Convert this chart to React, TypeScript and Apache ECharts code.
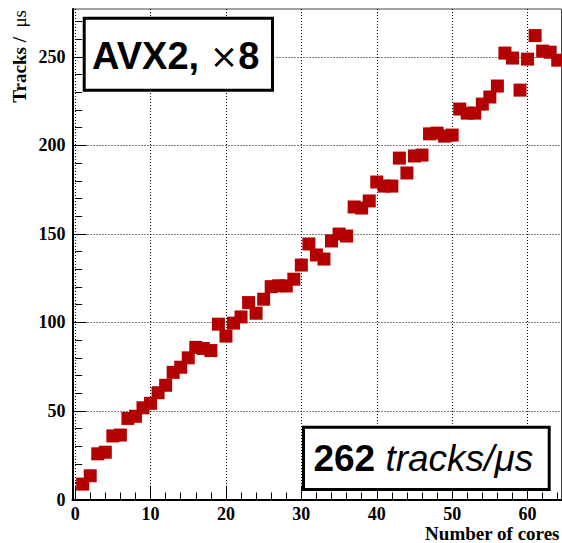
import React, { useEffect, useRef } from "react";
import * as echarts from "echarts";

// ---- data ----
const cores: number[] = [
  1, 2, 3, 4, 5, 6, 7, 8, 9, 10, 11, 12, 13, 14, 15, 16,
  17, 18, 19, 20, 21, 22, 23, 24, 25, 26, 27, 28, 29, 30, 31, 32,
  33, 34, 35, 36, 37, 38, 39, 40, 41, 42, 43, 44, 45, 46, 47, 48,
  49, 50, 51, 52, 53, 54, 55, 56, 57, 58, 59, 60, 61, 62, 63, 64,
];
const tracksPerUs: number[] = [
  8.7, 13.4, 25.8, 26.7, 35.9, 36.4, 45.8, 47.0, 51.8, 54.3, 60.3, 64.5, 71.8, 74.7, 80.0, 85.9,
  85.3, 84.1, 99.0, 92.3, 99.6, 103.1, 111.2, 105.2, 113.1, 120.2, 120.7, 120.6, 124.4, 132.4, 144.3, 138.1,
  135.8, 146.0, 149.9, 148.8, 165.2, 164.6, 168.6, 179.3, 177.0, 177.0, 192.8, 184.4, 194.0, 194.5, 206.5, 206.9,
  205.2, 205.8, 220.5, 218.2, 218.2, 223.3, 227.3, 233.5, 252.1, 249.3, 231.2, 248.7, 262.0, 253.2, 252.6, 248.1,
];
const xMajorTicks: number[] = [0, 10, 20, 30, 40, 50, 60];
const xMinorTicks: number[] = [
  2, 4, 6, 8, 12, 14, 16, 18, 22, 24, 26, 28, 32, 34, 36, 38,
  42, 44, 46, 48, 52, 54, 56, 58, 62, 64,
];
const yMajorTicks: number[] = [0, 50, 100, 150, 200, 250];
const yMinorTicks: number[] = [
  10, 20, 30, 40, 60, 70, 80, 90, 110, 120, 130, 140, 160, 170, 180, 190,
  210, 220, 230, 240, 260, 270,
];
const xRange: [number, number] = [-0.35, 64.5];
const yRange: [number, number] = [0, 277];
const xTitle = "Number of cores";
const yTitle = "Tracks /  ";
const yTitleUnit = "μs";
const boxTopLabel = ["AVX2, ", "×", "8"];
const boxBottomLabel = ["262", " tracks/μs"];

const SERIF = "'Liberation Serif', 'Times New Roman', serif";
const SANS = "'Liberation Sans', Arial, sans-serif";

export default function App() {
  const ref = useRef<HTMLDivElement>(null);
  useEffect(() => {
    if (!ref.current) return;
    const chart = echarts.init(ref.current, undefined, { renderer: "svg" });
    const labelStyle = {
      fontFamily: SERIF,
      fontWeight: "bold" as const,
      fontSize: 18,
      color: "#000",
    };
    chart.setOption({
      animation: false,
      backgroundColor: "#fff",
      grid: {
        left: 72.5,
        right: 0.5,
        top: 9,
        bottom: 43.5,
        show: true,
        borderColor: "#444",
        borderWidth: 1,
        backgroundColor: "transparent",
        outerBoundsMode: "none",
        containLabel: false,
      },
      xAxis: [
        {
          type: "value",
          min: xRange[0],
          max: xRange[1],
          position: "bottom",
          axisLine: { show: true, onZero: false, lineStyle: { color: "#000", width: 2 } },
          axisTick: {
            show: true,
            inside: true,
            length: 14,
            customValues: xMajorTicks,
            lineStyle: { color: "#000", width: 1 },
          },
          axisLabel: { ...labelStyle, customValues: xMajorTicks, margin: 5 },
          splitLine: { show: true, lineStyle: { color: "#000", width: 1, type: [1, 2] } },
        },
        {
          type: "value",
          min: xRange[0],
          max: xRange[1],
          position: "bottom",
          axisLine: { show: false },
          axisTick: {
            show: true,
            inside: true,
            length: 7,
            customValues: xMinorTicks,
            lineStyle: { color: "#000", width: 1 },
          },
          axisLabel: { show: false },
          splitLine: { show: false },
        },
      ],
      yAxis: [
        {
          type: "value",
          min: yRange[0],
          max: yRange[1],
          position: "left",
          axisLine: { show: true, onZero: false, lineStyle: { color: "#000", width: 2 } },
          axisTick: {
            show: true,
            inside: true,
            length: 14,
            customValues: yMajorTicks,
            lineStyle: { color: "#000", width: 1 },
          },
          axisLabel: { ...labelStyle, customValues: yMajorTicks, margin: 7 },
          splitLine: { show: true, lineStyle: { color: "#000", width: 1, type: [1, 2] } },
        },
        {
          type: "value",
          min: yRange[0],
          max: yRange[1],
          position: "left",
          axisLine: { show: false },
          axisTick: {
            show: true,
            inside: true,
            length: 7,
            customValues: yMinorTicks,
            lineStyle: { color: "#000", width: 1 },
          },
          axisLabel: { show: false },
          splitLine: { show: false },
        },
      ],
      series: [
        {
          type: "scatter",
          xAxisIndex: 0,
          yAxisIndex: 0,
          symbol: "rect",
          symbolSize: 13,
          itemStyle: { color: "#b30000", opacity: 1 },
          data: cores.map((c, i) => [c, tracksPerUs[i]]),
          clip: true,
          z: 3,
        },
      ],
      graphic: [
        {
          type: "rect",
          z: 100,
          shape: { x: 84.2, y: 18.2, width: 188.3, height: 72 },
          style: { fill: "#fff", stroke: "#000", lineWidth: 3 },
        },
        {
          type: "text",
          z: 101,
          x: 175.7,
          y: 56,
          style: {
            text: `{b|${boxTopLabel[0]}}{t|${boxTopLabel[1]}}{b|${boxTopLabel[2]}}`,
            textAlign: "center",
            textVerticalAlign: "middle",
            fontFamily: SANS,
            fontSize: 38,
            fontWeight: "bold",
            fill: "#000",
            rich: {
              b: { fontFamily: SANS, fontSize: 38, fontWeight: "bold", fill: "#000" },
              t: { fontFamily: "'DejaVu Sans', sans-serif", fontSize: 34, fontWeight: "normal", fill: "#000" },
            },
          },
        },
        {
          type: "rect",
          z: 100,
          shape: { x: 303.5, y: 427.2, width: 245.7, height: 62.3 },
          style: { fill: "#fff", stroke: "#000", lineWidth: 3 },
        },
        {
          type: "text",
          z: 101,
          x: 423.3,
          y: 458.8,
          style: {
            text: `{b|${boxBottomLabel[0]}}{i|${boxBottomLabel[1]}}`,
            textAlign: "center",
            textVerticalAlign: "middle",
            fontFamily: SANS,
            fontSize: 37,
            fill: "#000",
            rich: {
              b: { fontFamily: SANS, fontSize: 37, fontWeight: "bold", fill: "#000" },
              i: { fontFamily: SANS, fontSize: 37, fontWeight: "normal", fontStyle: "italic", fill: "#000" },
            },
          },
        },
        {
          type: "text",
          z: 101,
          x: 559.5,
          y: 533.3,
          style: {
            text: xTitle,
            textAlign: "right",
            textVerticalAlign: "middle",
            fontFamily: SERIF,
            fontSize: 19,
            fontWeight: "bold",
            fill: "#000",
          },
        },
        {
          type: "text",
          z: 101,
          x: 19.5,
          y: 10,
          rotation: Math.PI / 2,
          style: {
            text: `{b|${yTitle}}{u|${yTitleUnit}}`,
            textAlign: "right",
            textVerticalAlign: "middle",
            fontFamily: SERIF,
            fontSize: 19,
            fontWeight: "bold",
            fill: "#000",
            rich: {
              b: { fontFamily: SERIF, fontSize: 19, fontWeight: "bold", fill: "#000" },
              u: { fontFamily: SERIF, fontSize: 19, fontWeight: "normal", fill: "#000" },
            },
          },
        },
      ],
    });
    return () => chart.dispose();
  }, []);
  return (
    <div
      ref={ref}
      style={{ position: "absolute", left: 0, top: 0, width: 562, height: 543 }}
    />
  );
}
